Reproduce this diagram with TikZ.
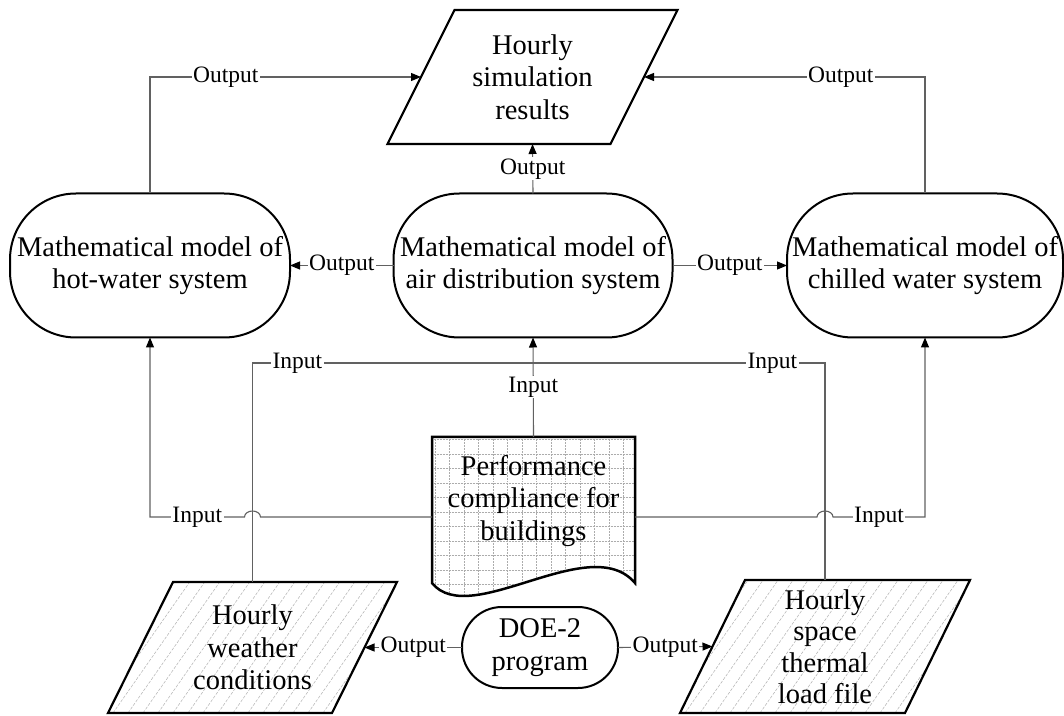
\documentclass[tikz,border=0pt]{standalone}
\usepackage{fontspec}
\setmainfont{Liberation Serif}
\usetikzlibrary{arrows.meta,calc,backgrounds}
\begin{document}
\begin{tikzpicture}[x=1pt,y=1pt,
  txt/.style={font=\fontsize{28.5}{32.5}\selectfont, align=center, inner sep=0pt, outer sep=0pt},
  stadium/.style={txt, draw=black, line width=2pt, rounded corners=66pt, minimum height=144pt},
  para/.style={txt, draw=none},
  pbord/.style={draw=black, line width=2.2pt, line join=miter},
  conn/.style={draw=black!62, line width=1.1pt},
  >={Triangle[length=10pt,width=8pt,color=black]},
  lbl/.style={fill=white, inner xsep=1.5pt, inner ysep=1pt, font=\fontsize{23.5}{25}\selectfont, text=black},
  hatch/.style={path picture={
      \foreach \k in {0,...,30}
        \draw[gray!60, line width=0.5pt, dash pattern=on 3pt off 1.5pt]
          ($(path picture bounding box.south west)+(\k*15-100,0)$) -- ++(55:180);}},
  gridfill/.style={path picture={
      \draw[gray!65, line width=0.5pt, densely dotted, step=14.5pt]
        (path picture bounding box.south west) grid (path picture bounding box.north east);}}
]
\useasboundingbox (0,0) rectangle (1064,715);

% nodes
\node[stadium, minimum width=280pt] (hw) at (150,449.5) {Mathematical model of\\hot-water system};
\node[stadium, minimum width=279pt] (air) at (533,449.5) {Mathematical model of\\air distribution system};
\node[stadium, minimum width=276pt] (cw) at (925,449.5) {Mathematical model of\\chilled water system};
\node[para, minimum width=223pt, minimum height=134pt] (res) at (532.5,638) {Hourly\\simulation\\results};
\node[para, minimum width=224pt, minimum height=131pt] (wea) at (252.5,67.5) {Hourly\\weather\\conditions};
\node[para, minimum width=225pt, minimum height=133pt, font=\fontsize{28.5}{31.5}\selectfont] (thm) at (825,68.5) {Hourly\\space\\thermal\\load file};
\node[stadium, minimum width=156pt, minimum height=81pt, rounded corners=40pt] (doe) at (540,67.5) {DOE-2\\program};
\node[txt, minimum width=203pt, minimum height=128pt] (doc) at (533.5,214) {Performance\\compliance for\\buildings};

\coordinate (jn) at (533,352);
\coordinate (lowL) at ([yshift=-16pt]doc.west);
\coordinate (lowR) at ([yshift=-16pt]doc.east);

% outputs
\draw[conn,->] (air.west) -- node[lbl]{Output} (hw.east);
\draw[conn,->] (air.east) -- node[lbl]{Output} (cw.west);
\draw[conn,->] (air.north) -- node[lbl]{Output} (res.south);
\draw[conn,->] (hw.north) |- node[lbl,pos=0.64]{Output} (res.west);
\draw[conn,->] (cw.north) |- node[lbl,pos=0.65]{Output} (res.east);
\draw[conn,->] (doe.west) -- node[lbl]{Output} (wea.east);
\draw[conn,->] (doe.east) -- node[lbl]{Output} (thm.west);

% inputs
\draw[conn,->] (doc.north) -- node[lbl]{Input} (air.south);
\draw[conn] (wea.north) |- node[lbl,pos=0.58]{Input} (jn);
\draw[conn] (thm.north) |- node[lbl,pos=0.59]{Input} (jn);
\draw[conn,->] (lowL) -- ($(wea.north |- lowL)+(8,0)$)
   arc[start angle=0,end angle=180,x radius=8,y radius=6]
   -- node[lbl]{Input} (hw.south |- lowL) -- (hw.south);
\draw[conn,->] (lowR) -- ($(thm.north |- lowR)+(-8,0)$)
   arc[start angle=180,end angle=0,x radius=8,y radius=6]
   -- node[lbl]{Input} (cw.south |- lowR) -- (cw.south);

% shape outlines behind text
\begin{scope}[on background layer]
\fill[white] (0,0) rectangle (1064,715);
\draw[pbord] ($(res.north west)+(33.5,0)$) -- ($(res.north east)+(33.5,0)$)
   -- ($(res.south east)-(33.5,0)$) -- ($(res.south west)-(33.5,0)$) -- cycle;
\draw[pbord, hatch] ($(wea.north west)+(32.5,0)$) -- ($(wea.north east)+(32.5,0)$)
   -- ($(wea.south east)-(32.5,0)$) -- ($(wea.south west)-(32.5,0)$) -- cycle;
\draw[pbord, hatch] ($(thm.north west)+(32.5,0)$) -- ($(thm.north east)+(32.5,0)$)
   -- ($(thm.south east)-(32.5,0)$) -- ($(thm.south west)-(32.5,0)$) -- cycle;
\draw[pbord, line width=2.5pt, gridfill] (doc.north west) -- (doc.north east)
   -- ([yshift=-18pt]doc.south east) .. controls +(-45,53) and +(38,-47) .. ([yshift=-18pt]doc.south west) -- cycle;
\end{scope}
\end{tikzpicture}
\end{document}
